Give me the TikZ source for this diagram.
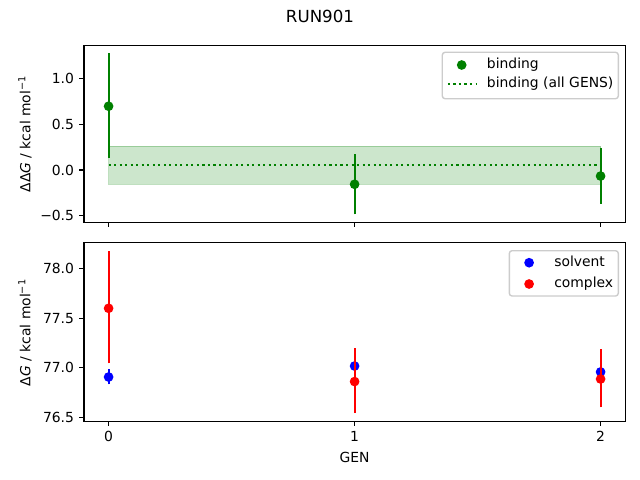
\documentclass[tikz,border=0pt]{standalone}
\usepackage{fontspec}
\setmainfont{DejaVu Sans}
\begin{document}
\begin{tikzpicture}[x=0.72pt,y=-0.72pt,
  lbl/.style={font=\fontsize{10}{12}\selectfont, inner sep=0pt},
  spine/.style={line width=0.8pt, line cap=rect},
  tickmark/.style={line width=0.8pt},
  ebar/.style={line width=1.5pt},
  dot/.style={circle, inner sep=0pt, minimum size=7pt},
  legframe/.style={draw=black!20, fill=white, fill opacity=0.8, line width=1pt, rounded corners=2pt}]
\definecolor{mgreen}{HTML}{008000}
\definecolor{mblue}{HTML}{0000FF}
\definecolor{mred}{HTML}{FF0000}
\useasboundingbox (0,0) rectangle (640,480);

% title
\node[font=\fontsize{12}{14}\selectfont, inner sep=0pt] (title) at (320,16.5) {RUN901};

% ---------------- top axes ----------------
\begin{scope}[shift={(108.6,170)}, x=177.12pt, y=65.88pt]
  \fill[mgreen, opacity=0.2] (0,-0.155) rectangle (2,0.262);
  \draw[mgreen, opacity=0.25, line width=0.7pt] (0,-0.155) rectangle (2,0.262);
  \draw[mgreen, line width=1.5pt, dash pattern=on 1.5pt off 2.475pt] (0,0.055) -- (2,0.055);
  \draw[ebar, mgreen] (0,0.135) -- (0,1.277);
  \draw[ebar, mgreen] (1,-0.485) -- (1,0.180);
  \draw[ebar, mgreen] (2,-0.369) -- (2,0.244);
  \node[dot, fill=mgreen] (b0) at (0,0.697) {};
  \node[dot, fill=mgreen] (b1) at (1,-0.156) {};
  \node[dot, fill=mgreen] (b2) at (2,-0.066) {};
  \draw[spine] (-0.1,-0.573) rectangle (2.1,1.365);
  \foreach \t in {0,1,2}
    \draw[tickmark] (\t,-0.573) -- ++(0pt,-3.5pt);
  \foreach \v/\s in {-0.5/{−0.5},0/{0.0},0.5/{0.5},1/{1.0}} {
    \draw[tickmark] (-0.1,\v) -- ++(-3.5pt,0pt);
    \node[lbl, anchor=east] (ty\v) at ([xshift=-7pt]-0.1,\v) {\s};
  }
\end{scope}
\node[lbl, rotate=90] (ylabtop) at (25,134) {ΔΔ\textit{G} / kcal mol\textsuperscript{−1}};

% legend top
\draw[legframe] (442.3,52.3) rectangle (618.3,98.7);
\node[dot, fill=mgreen] (lgb) at (461.7,65) {};
\node[lbl, anchor=base west] (lgbt) at (486.7,68.6) {binding};
\coordinate (lga) at (447.9,84);
\coordinate (lgz) at (475.7,84);
\draw[mgreen, line width=1.5pt, dash pattern=on 1.5pt off 2.475pt] (lga) -- (lgz);
\node[lbl, anchor=base west] (lgat) at (486.7,87.6) {binding (all GENS)};

% ---------------- bottom axes ----------------
\begin{scope}[shift={(108.6,367.7)}, x=177.12pt, y=71.28pt]
  \draw[ebar, mblue] (0,-0.168) -- (0,-0.016);
  \node[dot, fill=mblue] (s0) at (0,-0.094) {};
  \node[dot, fill=mblue] (s1) at (1,0.017) {};
  \node[dot, fill=mblue] (s2) at (2,-0.043) {};
  \draw[ebar, mred] (0,0.045) -- (0,1.18);
  \draw[ebar, mred] (1,-0.46) -- (1,0.196);
  \draw[ebar, mred] (2,-0.40) -- (2,0.186);
  \node[dot, fill=mred] (c0) at (0,0.600) {};
  \node[dot, fill=mred] (c1) at (1,-0.140) {};
  \node[dot, fill=mred] (c2) at (2,-0.114) {};
  \draw[spine] (-0.1,-0.542) rectangle (2.1,1.262);
  \foreach \t in {0,1,2} {
    \draw[tickmark] (\t,-0.542) -- ++(0pt,-3.5pt);
    \node[lbl, anchor=north] (tx\t) at ([yshift=-7pt]\t,-0.542) {\t};
  }
  \foreach \v/\s in {-0.5/{76.5},0/{77.0},0.5/{77.5},1/{78.0}} {
    \draw[tickmark] (-0.1,\v) -- ++(-3.5pt,0pt);
    \node[lbl, anchor=east] (by\v) at ([xshift=-7pt]-0.1,\v) {\s};
  }
\end{scope}
\node[lbl, rotate=90] (ylabbot) at (25,332.6) {Δ\textit{G} / kcal mol\textsuperscript{−1}};
\node[lbl] (xlab) at (354.5,457.3) {GEN};

% legend bottom
\draw[legframe] (509.3,250.7) rectangle (618.3,296);
\node[dot, fill=mblue] (lgs) at (529.1,262.7) {};
\node[lbl, anchor=base west] (lgst) at (554,266.3) {solvent};
\node[dot, fill=mred] (lgc) at (529.1,284) {};
\node[lbl, anchor=base west] (lgct) at (554,287.6) {complex};
\end{tikzpicture}
\end{document}
